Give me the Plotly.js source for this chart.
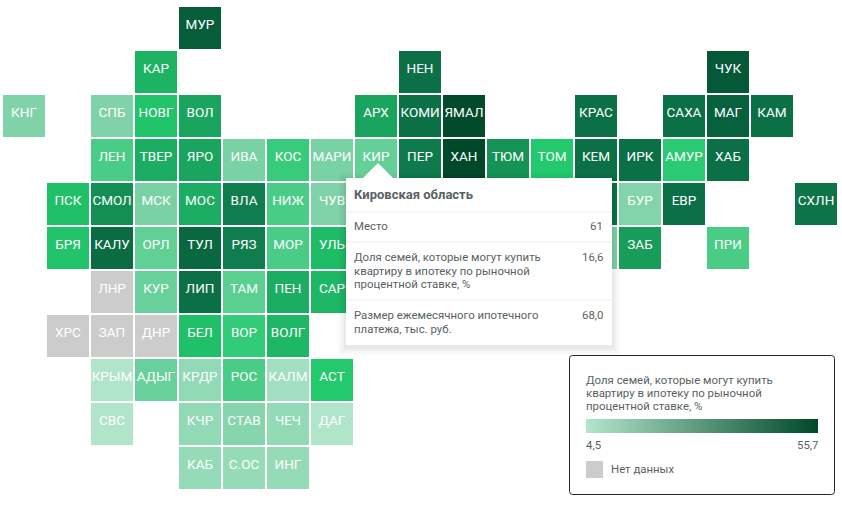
<!DOCTYPE html>
<html>
<head>
<meta charset="utf-8">
<script src="https://cdn.plot.ly/plotly-3.0.1.min.js"></script>
<style>html,body{margin:0;padding:0;background:#fff}#chart{width:842px;height:507px}</style>
</head>
<body>
<div id="chart"></div>
<script>
const _ = '';
const labelRows = [
  [_,_,_,_,'МУР',_,_,_,_,_,_,_,_,_,_,_,_,_,_],
  [_,_,_,'КАР',_,_,_,_,_,'НЕН',_,_,_,_,_,_,'ЧУК',_,_],
  ['КНГ',_,'СПБ','НОВГ','ВОЛ',_,_,_,'АРХ','КОМИ','ЯМАЛ',_,_,'КРАС',_,'САХА','МАГ','КАМ',_],
  [_,_,'ЛЕН','ТВЕР','ЯРО','ИВА','КОС','МАРИ','КИР','ПЕР','ХАН','ТЮМ','ТОМ','КЕМ','ИРК','АМУР','ХАБ',_,_],
  [_,'ПСК','СМОЛ','МСК','МОС','ВЛА','НИЖ','ЧУВ',_,_,_,_,_,_,'БУР','ЕВР',_,_,'СХЛН'],
  [_,'БРЯ','КАЛУ','ОРЛ','ТУЛ','РЯЗ','МОР','УЛЬ',_,_,_,_,_,_,'ЗАБ',_,'ПРИ',_,_],
  [_,_,'ЛНР','КУР','ЛИП','ТАМ','ПЕН','САР',_,_,_,_,_,_,_,_,_,_,_],
  [_,'ХРС','ЗАП','ДНР','БЕЛ','ВОР','ВОЛГ',_,_,_,_,_,_,_,_,_,_,_,_],
  [_,_,'КРЫМ','АДЫГ','КРДР','РОС','КАЛМ','АСТ',_,_,_,_,_,_,_,_,_,_,_],
  [_,_,'СВС',_,'КЧР','СТАВ','ЧЕЧ','ДАГ',_,_,_,_,_,_,_,_,_,_,_],
  [_,_,_,_,'КАБ','С.ОС','ИНГ',_,_,_,_,_,_,_,_,_,_,_,_]
];
const n = null;
const valueRows = [
  [n,n,n,n,50,n,n,n,n,n,n,n,n,n,n,n,n,n,n],
  [n,n,n,30,n,n,n,n,n,45,n,n,n,n,n,n,51,n,n],
  [13,n,13,26,33,n,n,n,33,45,55,n,n,45,n,45,49,45,n],
  [n,n,20,31,33,14,22,14,16.6,43,55.7,37,25,45,45,24,45,n,n],
  [n,27,38,14,31,42,20,13,n,n,n,n,n,44,12.5,45,n,n,44],
  [n,26,46,17,47,42,20,28,n,n,n,n,n,13,35,n,20,n,n],
  [n,n,n,16,45,18,31,29,n,n,n,n,n,n,n,n,n,n,n],
  [n,n,n,n,27,23,29,n,n,n,n,n,n,n,n,n,n,n,n],
  [n,n,5,16,10,20,7.5,25,n,n,n,n,n,n,n,n,n,n,n],
  [n,n,5,n,10,12,10,5,n,n,n,n,n,n,n,n,n,n,n],
  [n,n,n,n,9.5,9.5,9.5,n,n,n,n,n,n,n,n,n,n,n,n]
];
const noDataLabels = ['ЛНР','ХРС','ЗАП','ДНР'];
const legendRange = [4.5, 55.7];
const legendTickText = ['4,5', '55,7'];
const legendTitleLines = ['Доля семей, которые могут купить','квартиру в ипотеку по рыночной','процентной ставке, %'];
const noDataText = 'Нет данных';
const tipTitle = 'Кировская область';
const tipLabelLines = [
  ['Место'],
  ['Доля семей, которые могут купить','квартиру в ипотеку по рыночной','процентной ставке, %'],
  ['Размер ежемесячного ипотечного','платежа, тыс. руб.']
];
const tipValues = ['61','16,6','68,0'];

const W = 842, H = 507;
const px = v => v / W, py = v => 1 - v / H;
const font = 'Roboto, sans-serif';
const grey = '#5a5f62';

const noDataZ = labelRows.map(r => r.map(l => noDataLabels.includes(l) ? 1 : null));
const labelX = [], labelY = [], labelText = [];
labelRows.forEach((r,i)=>r.forEach((l,j)=>{ if(l){labelX.push(j);labelY.push(i);labelText.push(l);} }));

const traces = [
  {type:'heatmap', z:valueRows, xgap:2, ygap:2,
   zmin:legendRange[0], zmax:legendRange[1], showscale:false, hoverinfo:'skip',
   colorscale:[[0,'#b3e6cc'],[0.166,'#80d3a9'],[0.4,'#22c96d'],[0.79,'#0c7047'],[1,'#00482a']]},
  {type:'heatmap', z:noDataZ, xgap:2, ygap:2,
   zmin:0, zmax:1, showscale:false, hoverinfo:'skip',
   colorscale:[[0,'#cccccc'],[1,'#cccccc']]},
  {type:'scatter', mode:'text', x:labelX, y:labelY, yaxis:'y2', text:labelText, hoverinfo:'skip',
   textposition:'middle center', cliponaxis:false,
   textfont:{family:font,size:13.5,color:'#ffffff'}},
  {type:'scatter', mode:'markers', x:[0,0], y:[0,0], hoverinfo:'skip',
   marker:{size:1, opacity:0, color:legendRange, coloraxis:'coloraxis2'}}
];

function rectS(x0,y0,x1,y1,opts){
  return Object.assign({type:'rect',xref:'paper',yref:'paper',layer:'above',
    x0:px(x0),x1:px(x1),y0:py(y0),y1:py(y1),line:{width:0}},opts);
}
function roundedPath(x0,y0,x1,y1,r){
  const X=v=>px(v), Y=v=>py(v);
  return `M${X(x0+r)},${Y(y0)} L${X(x1-r)},${Y(y0)} Q${X(x1)},${Y(y0)} ${X(x1)},${Y(y0+r)} `+
    `L${X(x1)},${Y(y1-r)} Q${X(x1)},${Y(y1)} ${X(x1-r)},${Y(y1)} L${X(x0+r)},${Y(y1)} `+
    `Q${X(x0)},${Y(y1)} ${X(x0)},${Y(y1-r)} L${X(x0)},${Y(y0+r)} Q${X(x0)},${Y(y0)} ${X(x0+r)},${Y(y0)} Z`;
}

const shapes = [];
[[8,0.015],[6,0.02],[4,0.025],[2,0.03]].forEach(([d,o])=>{
  shapes.push(rectS(346-d,179-d+2,612+d,345+d+2,{fillcolor:`rgba(0,0,0,${o})`}));
});
shapes.push(rectS(346,178,612,345,{fillcolor:'#ffffff'}));
shapes.push({type:'path',xref:'paper',yref:'paper',layer:'above',fillcolor:'#ffffff',line:{width:0},
  path:`M${px(362)},${py(179)} L${px(378)},${py(163)} L${px(394)},${py(179)} Z`});
[212,242,300].forEach(y=>shapes.push(rectS(346,y-0.5,612,y+0.5,{fillcolor:'#eeeeee'})));
shapes.push({type:'path',xref:'paper',yref:'paper',layer:'above',fillcolor:'rgba(255,255,255,1)',
  line:{color:'#1d2a33',width:1},path:roundedPath(569.5,355.5,834.5,494.5,3)});
shapes.push(rectS(586,461,603,478,{fillcolor:'#cccccc'}));

function note(text,x,y,anchor,size){
  return {text,xref:'paper',yref:'paper',x:px(x),y:py(y),xanchor:anchor,yanchor:'middle',
    align:anchor==='right'?'right':'left',showarrow:false,borderpad:0,
    font:{family:font,size:size||11.4,color:grey}};
}
const tipLineY = [[226],[257,271,284],[315,329]];
const legendLineY = [380,393,406];
const annotations = [
  note('<b>'+tipTitle+'</b>',353,195,'left',13),
  ...tipLabelLines.flatMap((lines,i)=>lines.map((t,k)=>note(t,353,tipLineY[i][k],'left'))),
  ...tipValues.map((v,i)=>note(v,604,tipLineY[i][0],'right')),
  ...legendTitleLines.map((t,k)=>note(t,585,legendLineY[k],'left')),
  note(legendTickText[0],585,445,'left'),
  note(legendTickText[1],819,445,'right'),
  note(noDataText,610,469,'left')
];

const layout = {
  width:W,height:H,margin:{l:0,r:0,t:0,b:0,pad:0,autoexpand:false},
  paper_bgcolor:'#ffffff',plot_bgcolor:'#ffffff',showlegend:false,
  xaxis:{range:[-24/44,(W-24)/44],visible:false,fixedrange:true},
  yaxis:{range:[(H-28)/44,-28/44],visible:false,fixedrange:true},
  yaxis2:{range:[(H-26)/44,-26/44],visible:false,fixedrange:true,overlaying:'y'},
  coloraxis2:{cmin:legendRange[0],cmax:legendRange[1],
    colorscale:[[0,'#b3e6cc'],[1,'#00482a']],
    colorbar:{orientation:'h',x:px(586),xanchor:'left',xpad:0,y:py(433),yanchor:'bottom',ypad:0,
      len:232,lenmode:'pixels',thickness:14,thicknessmode:'pixels',outlinewidth:0,borderwidth:0,
      showticklabels:false,ticks:'',bgcolor:'rgba(0,0,0,0)'}},
  shapes,annotations
};
Plotly.newPlot('chart',traces,layout,{displayModeBar:false,staticPlot:true});
</script>
</body>
</html>
